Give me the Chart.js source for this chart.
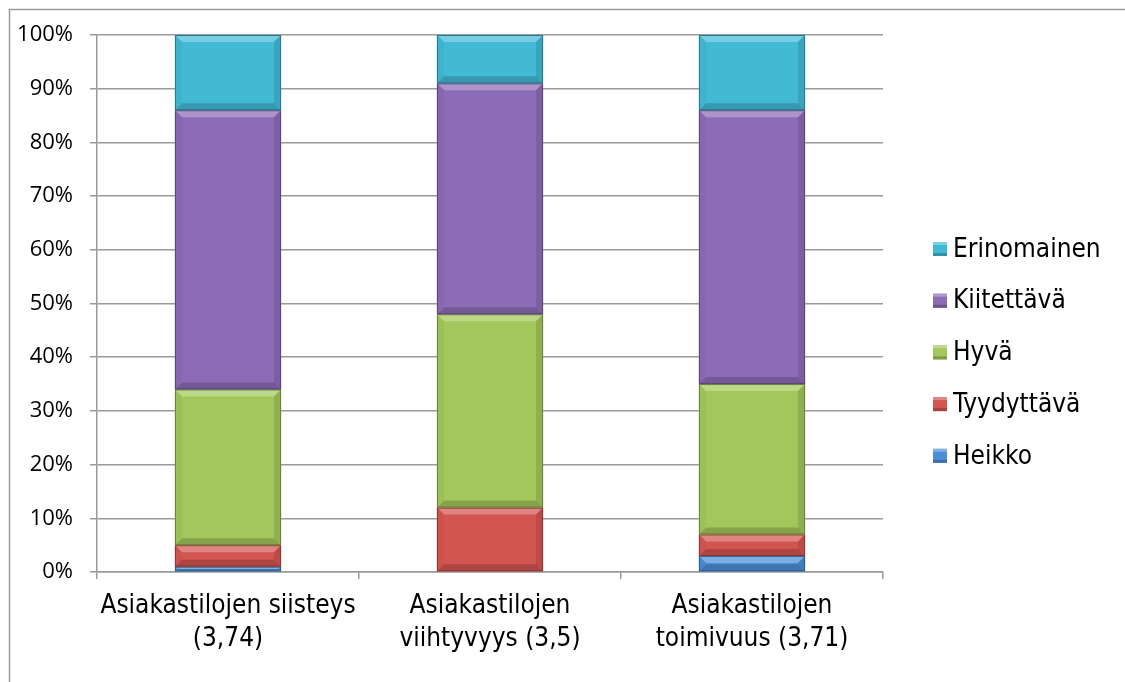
<!DOCTYPE html>
<html>
<head>
<meta charset="utf-8">
<script src="https://cdn.jsdelivr.net/npm/chart.js@4/dist/chart.umd.min.js"></script>
<style>
  html, body { margin: 0; padding: 0; background: #ffffff; }
  #wrap { position: relative; width: 1125px; height: 682px; }
</style>
</head>
<body>
<div id="wrap"><canvas id="c" width="1125" height="682"></canvas></div>
<script>
// Categories (two-line axis labels)
const categories = [
  ['Asiakastilojen siisteys', '(3,74)'],
  ['Asiakastilojen', 'viihtyvyys (3,5)'],
  ['Asiakastilojen', 'toimivuus (3,71)']
];

// Share of answers per rating, percent
const heikko      = [1, 0, 3];
const tyydyttava  = [4, 12, 4];
const hyva        = [29, 36, 28];
const kiitettava  = [52, 43, 51];
const erinomainen = [14, 9, 14];

const seriesNames  = ['Heikko', 'Tyydyttävä', 'Hyvä', 'Kiitettävä', 'Erinomainen'];
const seriesValues = [heikko, tyydyttava, hyva, kiitettava, erinomainen];
const seriesColors = ['#4B8ED6', '#D35550', '#A3C75B', '#8D6CB7', '#42BAD6'];

const yTicks = [0, 10, 20, 30, 40, 50, 60, 70, 80, 90, 100];

const labelFont = 'DejaVu Sans Condensed';
const tickFont = 'Open Sans';

function shade(hex, amt) {
  const n = parseInt(hex.slice(1), 16);
  let r = (n >> 16) & 255, g = (n >> 8) & 255, b = n & 255;
  const f = (c) => amt >= 0 ? Math.round(c + (255 - c) * amt) : Math.round(c * (1 + amt));
  return 'rgb(' + f(r) + ',' + f(g) + ',' + f(b) + ')';
}

// Bevelled edges drawn over each bar rectangle
const bevelPlugin = {
  id: 'bevel',
  afterDatasetsDraw(chart) {
    const ctx = chart.ctx;
    chart.data.datasets.forEach((ds, di) => {
      const meta = chart.getDatasetMeta(di);
      meta.data.forEach((bar) => {
        const w = bar.width;
        const left = bar.x - w / 2, right = bar.x + w / 2;
        const top = Math.min(bar.y, bar.base), bottom = Math.max(bar.y, bar.base);
        const h = bottom - top;
        if (h < 1) return;
        const b = Math.min(7, h / 2);
        const col = ds.backgroundColor;
        ctx.save();
        // top edge
        ctx.fillStyle = shade(col, 0.28);
        ctx.beginPath();
        ctx.moveTo(left, top); ctx.lineTo(right, top);
        ctx.lineTo(right - b, top + b); ctx.lineTo(left + b, top + b);
        ctx.closePath(); ctx.fill();
        // bottom edge
        ctx.fillStyle = shade(col, -0.18);
        ctx.beginPath();
        ctx.moveTo(left, bottom); ctx.lineTo(right, bottom);
        ctx.lineTo(right - b, bottom - b); ctx.lineTo(left + b, bottom - b);
        ctx.closePath(); ctx.fill();
        // left edge
        ctx.fillStyle = shade(col, -0.04);
        ctx.beginPath();
        ctx.moveTo(left, top); ctx.lineTo(left + b, top + b);
        ctx.lineTo(left + b, bottom - b); ctx.lineTo(left, bottom);
        ctx.closePath(); ctx.fill();
        // right edge
        ctx.fillStyle = shade(col, -0.12);
        ctx.beginPath();
        ctx.moveTo(right, top); ctx.lineTo(right - b, top + b);
        ctx.lineTo(right - b, bottom - b); ctx.lineTo(right, bottom);
        ctx.closePath(); ctx.fill();
        // outline
        ctx.strokeStyle = shade(col, -0.35);
        ctx.lineWidth = 1;
        ctx.strokeRect(left + 0.5, top + 0.5, w - 1, h - 1);
        ctx.restore();
      });
    });
  }
};

// Outer frame and legend on the right
const framePlugin = {
  id: 'frame',
  afterDraw(chart) {
    const ctx = chart.ctx;
    ctx.save();
    ctx.strokeStyle = '#9a9a9a';
    ctx.lineWidth = 1.5;
    ctx.beginPath();
    ctx.moveTo(9.5, 690); ctx.lineTo(9.5, 9.5); ctx.lineTo(1130, 9.5);
    ctx.stroke();

    const items = chart.data.datasets.map((d) => ({ label: d.label, color: d.backgroundColor })).reverse();
    const x0 = 933, yStart = 249, step = 51.7, box = 14;
    ctx.font = '26px "' + labelFont + '"';
    ctx.textBaseline = 'middle';
    ctx.textAlign = 'left';
    items.forEach((it, i) => {
      const y = yStart + i * step;
      ctx.fillStyle = it.color;
      ctx.fillRect(x0, y - box / 2, box, box);
      ctx.fillStyle = shade(it.color, 0.3);
      ctx.fillRect(x0, y - box / 2, box, 3);
      ctx.fillStyle = shade(it.color, -0.22);
      ctx.fillRect(x0, y + box / 2 - 3, box, 3);
      ctx.fillStyle = '#000000';
      ctx.fillText(it.label, x0 + 20, y + 1);
    });
    ctx.restore();
  }
};

new Chart(document.getElementById('c'), {
  type: 'bar',
  data: {
    labels: categories,
    datasets: seriesNames.map((name, i) => ({
      label: name,
      data: seriesValues[i],
      backgroundColor: seriesColors[i],
      borderWidth: 0,
      barPercentage: 0.405,
      categoryPercentage: 1.0
    }))
  },
  options: {
    responsive: false,
    animation: false,
    devicePixelRatio: 1,
    layout: { padding: { top: 35, right: 242, left: 0, bottom: 0 } },
    plugins: {
      legend: { display: false },
      tooltip: { enabled: false }
    },
    scales: {
      x: {
        stacked: true,
        afterFit(scale) { scale.height = 110; },
        grid: {
          offset: true,
          drawOnChartArea: false,
          drawTicks: true,
          tickLength: 7,
          color: '#9a9a9a',
          lineWidth: 1.5
        },
        border: { display: true, color: '#9a9a9a', width: 1.5 },
        ticks: {
          color: '#000000',
          padding: 11,
          maxRotation: 0,
          autoSkip: false,
          font: { family: labelFont, size: 26, lineHeight: 1.26 }
        }
      },
      y: {
        stacked: true,
        min: 0,
        max: 100,
        afterFit(scale) { scale.width = 97; },
        afterBuildTicks(scale) { scale.ticks = yTicks.map(v => ({ value: v })); },
        grid: {
          color: '#9a9a9a',
          lineWidth: 1.5,
          drawTicks: true,
          tickLength: 7
        },
        border: { display: true, color: '#9a9a9a', width: 1.5 },
        ticks: {
          color: '#000000',
          padding: 17,
          callback: (v) => v + '%',
          font: { family: tickFont, size: 22 }
        }
      }
    }
  },
  plugins: [bevelPlugin, framePlugin]
});
</script>
</body>
</html>
